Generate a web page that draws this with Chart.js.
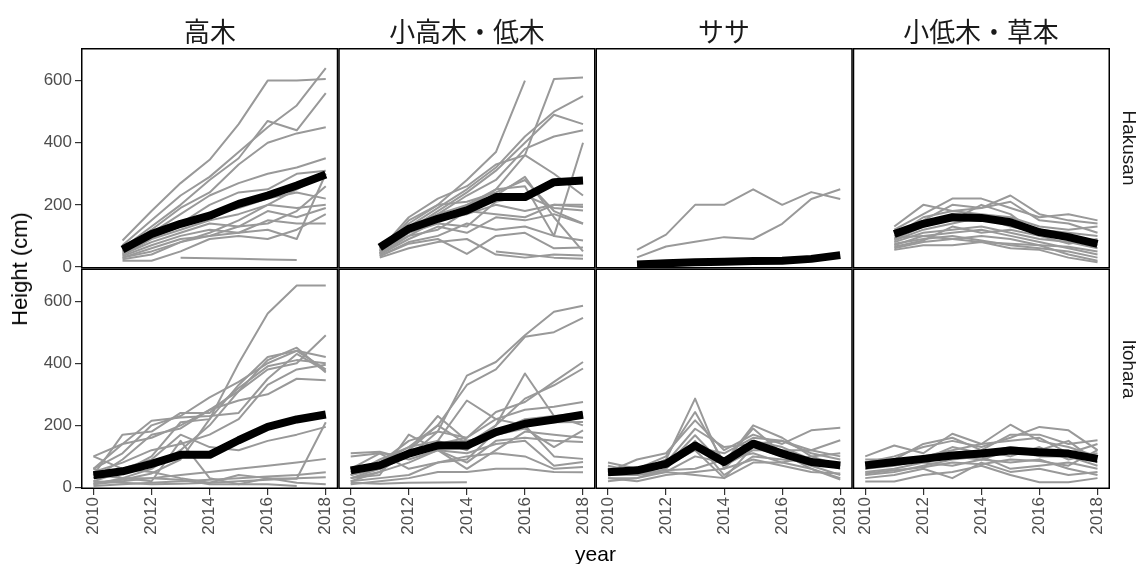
<!DOCTYPE html>
<html>
<head>
<meta charset="utf-8">
<script src="https://cdn.jsdelivr.net/npm/chart.js@4"></script>
<style>
html,body{margin:0;padding:0;background:#fff;}
#wrap{position:relative;width:1145px;height:564px;overflow:hidden;}
#c{position:absolute;left:0;top:0;}
.lab{position:absolute;white-space:nowrap;color:#1a1a1a;line-height:1;}
.stripTop{font-family:"Noto Sans CJK JP","Noto Sans CJK SC",sans-serif;font-size:27px;transform:translate(-50%,-50%) scaleX(0.96);}
.stripRight{font-family:"Liberation Sans",Arial,sans-serif;font-size:19px;transform:translate(-50%,-50%) rotate(90deg);}
.ytitle{font-family:"Liberation Sans",Arial,sans-serif;font-size:22px;color:#000;transform:translate(-50%,-50%) rotate(-90deg);}
.xtitle{font-family:"Liberation Sans",Arial,sans-serif;font-size:21px;color:#000;transform:translate(-50%,-50%);}
</style>
</head>
<body>
<div id="wrap"><canvas id="c" width="1145" height="564"></canvas></div>
<script>
// ---------- data ----------
const yearsHakusan = [2011, 2012, 2013, 2014, 2015, 2016, 2017, 2018];
const yearsItohara = [2010, 2011, 2012, 2013, 2014, 2015, 2016, 2017, 2018];
const xTickLabels = [2010, 2012, 2014, 2016, 2018];
const yTickLabels = [0, 200, 400, 600];
const lifeforms = ['高木', '小高木・低木', 'ササ', '小低木・草本'];
const sites = ['Hakusan', 'Itohara'];

// Hakusan 高木
const hakusanTree = [
  [85, 180, 270, 345, 460, 600, 600, 605],
  [70, 150, 230, 290, 370, 450, 520, 640],
  [60, 130, 200, 280, 350, 470, 440, 560],
  [55, 120, 190, 240, 330, 400, 430, 450],
  [50, 110, 170, 230, 270, 300, 320, 350],
  [50, 100, 140, 200, 240, 250, 300, 310],
  [45, 95, 130, 170, 190, 220, 240, 220],
  [40, 90, 120, 150, 170, 200, 190, 200],
  [40, 80, 110, 140, 130, 180, 160, 190],
  [35, 70, 100, 120, 110, 150, 140, 140],
  [30, 60, 90, 100, 130, 140, 180, 260],
  [25, 40, 80, 100, 110, 120, 90, 300],
  [20, 20, 50, 90, 100, 90, 120, 170],
  [null, null, 30, 28, 26, 24, 22, null],
  [30, 50, 80, 110, 150, 200, 250, 300]
];
const hakusanTreeMean = [56, 106, 139, 165, 203, 230, 262, 298];

// Hakusan 小高木・低木
const hakusanSubtree = [
  [60, 140, 200, 280, 370, 600, null, null],
  [55, 160, 220, 260, 330, 360, 605, 610],
  [60, 130, 190, 250, 320, 420, 500, 550],
  [50, 120, 180, 240, 310, 400, 490, 460],
  [45, 110, 170, 230, 280, 380, 420, 440],
  [50, 100, 150, 200, 250, 260, 100, 400],
  [55, 130, 160, 190, 250, 360, 300, 230],
  [50, 120, 150, 170, 200, 180, 200, 193],
  [45, 110, 140, 130, 210, 230, 190, 182],
  [40, 100, 120, 180, 170, 160, 200, 200],
  [40, 90, 130, 110, 160, 150, 170, 139],
  [35, 80, 100, 140, 120, 130, 100, 85],
  [35, 75, 90, 42, 100, 110, 60, 63],
  [30, 60, 80, 90, 40, 30, 40, 37],
  [null, null, null, null, 50, 40, 30, 26],
  [45, 150, 200, 210, 240, 280, 180, 140],
  [40, 130, 170, 200, 230, 290, 160, 50]
];
const hakusanSubtreeMean = [63, 123, 155, 182, 225, 225, 273, 278];

// Hakusan ササ
const hakusanSasa = [
  [55, 104, 200, 200, 250, 200, 241, 219],
  [31, 66, 81, 96, 90, 139, 219, 250]
];
const hakusanSasaMean = [8, 12, 15, 17, 19, 20, 26, 38];

// Hakusan 小低木・草本
const hakusanShrub = [
  [130, 200, 180, 190, 230, 170, 150, 140],
  [120, 170, 220, 220, 190, 160, 170, 150],
  [110, 150, 200, 190, 210, 150, 140, 110],
  [100, 160, 180, 170, 160, 130, 120, 130],
  [90, 130, 170, 150, 140, 120, 110, 100],
  [85, 120, 140, 160, 130, 110, 90, 80],
  [80, 110, 120, 130, 110, 90, 80, 60],
  [70, 100, 110, 120, 100, 80, 60, 40],
  [60, 80, 90, 100, 90, 70, 40, 20],
  [55, 70, 70, 80, 60, 55, 30, 15],
  [75, 90, 100, 85, 70, 60, 50, 30],
  [95, 100, 90, 80, 75, 70, 65, 50],
  [65, 85, 130, 110, 120, 100, 75, 90],
  [110, 140, 150, 200, 170, 100, 100, 70]
];
const hakusanShrubMean = [106, 139, 160, 158, 144, 112, 96, 74];

// Itohara 高木
const itoharaTree = [
  [15, 25, 45, 90, 220, 400, 560, 650, 650],
  [10, 30, 60, 120, 200, 310, 410, 450, 370],
  [20, 50, 100, 210, 220, 330, 420, 440, 380],
  [30, 90, 170, 190, 250, 310, 380, 400, 490],
  [60, 110, 200, 230, 290, 340, 400, 440, 420],
  [40, 170, 180, 240, 240, 320, 390, 410, 400],
  [50, 80, 120, 140, 170, 220, 330, 380, 395],
  [100, 140, 160, 200, 250, 280, 300, 350, 345],
  [30, 60, 90, 170, 130, 120, 150, 170, 195],
  [100, 60, 50, 30, 15, 40, 30, 28, 210],
  [10, 20, 30, 40, 50, 60, 70, 80, 92],
  [5, 10, 15, 20, 25, 30, 35, 40, 49],
  [20, 15, 10, 12, 15, 20, 25, 30, 33],
  [40, 30, 30, 25, 10, 10, 30, 15, 10],
  [60, 30, 20, 150, 30, 10, 10, 5, null],
  [60, 140, 215, 225, 230, 240, 350, 430, 375]
];
const itoharaTreeMean = [39, 52, 76, 105, 105, 152, 195, 219, 235];

// Itohara 小高木・低木
const itoharaSubtree = [
  [30, 60, 100, 180, 360, 404, 490, 566, 585],
  [40, 70, 120, 200, 330, 380, 485, 500, 546],
  [50, 80, 150, 180, 160, 243, 275, 340, 404],
  [40, 90, 130, 200, 140, 200, 286, 329, 383],
  [60, 80, 130, 150, 120, 200, 367, 230, 200],
  [40, 60, 110, 140, 160, 220, 250, 260, 275],
  [50, 70, 100, 150, 280, 220, 200, 210, 211],
  [20, 50, 120, 230, 150, 170, 190, 130, 184],
  [30, 40, 170, 120, 80, 150, 160, 150, 146],
  [60, 110, 100, 140, 150, 170, 200, 100, 92],
  [30, 50, 80, 120, 110, 140, 150, 70, 82],
  [20, 30, 40, 80, 100, 110, 100, 60, 66],
  [10, 20, 30, 50, 50, 60, 60, 50, 49],
  [15, 12, 15, 16, 17, null, null, null, null],
  [110, 115, 90, 120, 60, 120, 180, 170, 160],
  [100, 110, 60, 80, 90, 180, 220, 230, 240]
];
const itoharaSubtreeMean = [55, 71, 109, 135, 135, 178, 205, 219, 234];

// Itohara ササ
const itoharaSasa = [
  [70, 50, 90, 286, 60, 150, 130, 90, 60],
  [60, 60, 100, 243, 80, 200, 160, 100, 70],
  [50, 90, 110, 216, 120, 170, 140, 184, 192],
  [40, 60, 80, 189, 130, 140, 150, 120, 100],
  [40, 40, 70, 168, 70, 120, 120, 120, 152],
  [30, 30, 60, 150, 40, 100, 90, 80, 70],
  [60, 50, 70, 120, 30, 130, 100, 70, 40],
  [50, 40, 50, 100, 80, 190, 110, 60, 30],
  [20, 30, 50, 40, 30, 80, 80, 60, 25],
  [30, 20, 40, 50, 60, 90, 70, 50, 45],
  [40, 45, 55, 60, 90, 110, 80, 100, 110],
  [80, 60, 70, 130, 110, 160, 150, 110, 90]
];
const itoharaSasaMean = [49, 55, 76, 135, 82, 141, 109, 82, 71];

// Itohara 小低木・草本
const itoharaShrub = [
  [100, 135, 110, 173, 140, 202, 150, 130, 100],
  [80, 100, 130, 150, 130, 160, 195, 184, 120],
  [90, 90, 140, 160, 120, 170, 170, 140, 152],
  [70, 80, 100, 120, 140, 150, 160, 110, 140],
  [60, 70, 90, 130, 110, 130, 120, 150, 80],
  [50, 60, 80, 110, 120, 100, 130, 90, 110],
  [40, 50, 70, 90, 100, 60, 70, 80, 60],
  [30, 40, 60, 30, 80, 50, 60, 40, 50],
  [19, 19, 40, 50, 70, 40, 17, 17, 30],
  [60, 80, 90, 100, 90, 120, 100, 100, 70],
  [80, 90, 80, 70, 90, 80, 90, 60, 40],
  [45, 55, 65, 80, 75, 90, 85, 70, 120]
];
const itoharaShrubMean = [71, 82, 92, 103, 109, 119, 113, 109, 92];

// ---------- build ----------
const panels = [
  {x: 'x0', y: 'yH', years: yearsHakusan, lines: hakusanTree, mean: hakusanTreeMean},
  {x: 'x1', y: 'yH', years: yearsHakusan, lines: hakusanSubtree, mean: hakusanSubtreeMean},
  {x: 'x2', y: 'yH', years: yearsHakusan, lines: hakusanSasa, mean: hakusanSasaMean},
  {x: 'x3', y: 'yH', years: yearsHakusan, lines: hakusanShrub, mean: hakusanShrubMean},
  {x: 'x0', y: 'yI', years: yearsItohara, lines: itoharaTree, mean: itoharaTreeMean},
  {x: 'x1', y: 'yI', years: yearsItohara, lines: itoharaSubtree, mean: itoharaSubtreeMean},
  {x: 'x2', y: 'yI', years: yearsItohara, lines: itoharaSasa, mean: itoharaSasaMean},
  {x: 'x3', y: 'yI', years: yearsItohara, lines: itoharaShrub, mean: itoharaShrubMean}
];

const toPts = (years, vals) => years.map((yr, i) => ({x: yr, y: vals[i]}));
const datasets = [];
panels.forEach(p => {
  p.lines.forEach(l => datasets.push({
    data: toPts(p.years, l), xAxisID: p.x, yAxisID: p.y,
    borderColor: '#999999', borderWidth: 2, pointRadius: 0, order: 2,
    spanGaps: false, borderJoinStyle: 'round', borderCapStyle: 'butt', tension: 0
  }));
  datasets.push({
    data: toPts(p.years, p.mean), xAxisID: p.x, yAxisID: p.y,
    borderColor: '#000000', borderWidth: 8, pointRadius: 0, order: 1,
    borderJoinStyle: 'round', borderCapStyle: 'butt', tension: 0
  });
});

const tickFont = {family: '"Liberation Sans", Arial, sans-serif', size: 17};
function xScale(i) {
  return {
    type: 'linear', position: 'bottom', stack: 'cols', stackWeight: 1, weight: i,
    min: 2009.57, max: 2018.43,
    afterBuildTicks: a => { a.ticks = xTickLabels.map(v => ({value: v})); },
    afterFit: a => { a.height = 75; },
    ticks: {minRotation: 90, maxRotation: 90, autoSkip: false, color: '#4D4D4D',
            font: tickFont, padding: 2, callback: v => String(v)},
    grid: {drawOnChartArea: false, drawTicks: true, tickLength: 6, color: '#333333', lineWidth: 1.2},
    border: {display: false}
  };
}
function yScale(w) {
  return {
    type: 'linear', position: 'left', stack: 'rows', stackWeight: 1, weight: w,
    min: -5, max: 705,
    afterBuildTicks: a => { a.ticks = yTickLabels.map(v => ({value: v})); },
    afterFit: a => { a.width = 81; },
    ticks: {color: '#4D4D4D', font: tickFont, padding: 3, callback: v => String(v)},
    grid: {drawOnChartArea: false, drawTicks: true, tickLength: 6, color: '#333333', lineWidth: 1.2},
    border: {display: false}
  };
}

const borderPlugin = {
  id: 'panelBorder',
  afterDatasetsDraw(chart) {
    const ctx = chart.ctx;
    ctx.save();
    ctx.strokeStyle = '#000';
    ctx.lineWidth = 1.5;
    ['x0', 'x1', 'x2', 'x3'].forEach(xid => {
      ['yH', 'yI'].forEach(yid => {
        const xs = chart.scales[xid], ys = chart.scales[yid];
        ctx.strokeRect(xs.left + 0.75, ys.top + 0.75, xs.right - xs.left - 1.5, ys.bottom - ys.top - 1.5);
      });
    });
    ctx.restore();
  }
};

const chart = new Chart(document.getElementById('c'), {
  type: 'line',
  data: {datasets},
  options: {
    responsive: false, animation: false, devicePixelRatio: 1, events: [],
    layout: {padding: {left: 0, top: 48, right: 35, bottom: 0}},
    plugins: {legend: {display: false}, tooltip: {enabled: false}},
    scales: {
      x0: xScale(0), x1: xScale(1), x2: xScale(2), x3: xScale(3),
      yH: yScale(2), yI: yScale(1)
    }
  },
  plugins: [borderPlugin]
});

// ---------- text labels (strips, axis titles) ----------
const wrap = document.getElementById('wrap');
function addLabel(cls, text, x, y) {
  const d = document.createElement('div');
  d.className = 'lab ' + cls;
  d.textContent = text;
  d.style.left = x + 'px';
  d.style.top = y + 'px';
  wrap.appendChild(d);
}
['x0', 'x1', 'x2', 'x3'].forEach((id, i) => {
  const s = chart.scales[id];
  addLabel('stripTop', lifeforms[i], (s.left + s.right) / 2, 30);
});
['yH', 'yI'].forEach((id, i) => {
  const s = chart.scales[id];
  addLabel('stripRight', sites[i], 1129, (s.top + s.bottom) / 2 - 10);
});
const yh = chart.scales.yH, yi = chart.scales.yI;
addLabel('ytitle', 'Height (cm)', 20, (yh.top + yi.bottom) / 2);
addLabel('xtitle', 'year', (chart.chartArea.left + chart.chartArea.right) / 2, 553);
</script>
</body>
</html>
